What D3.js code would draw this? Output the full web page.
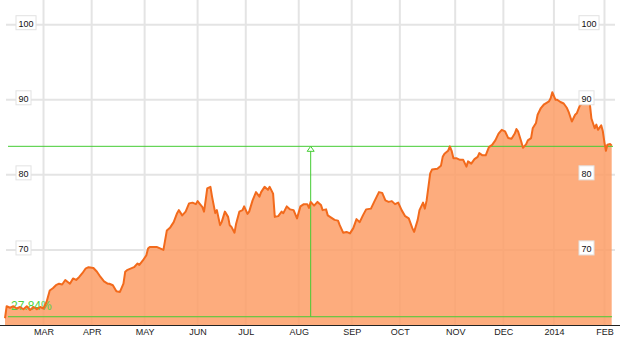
<!DOCTYPE html>
<html>
<head>
<meta charset="utf-8">
<script src="https://cdn.jsdelivr.net/npm/d3@7"></script>
<style>
  html, body { margin: 0; padding: 0; background: #fff; }
  svg { display: block; font-family: Arial, "Liberation Sans", sans-serif; }
</style>
</head>
<body>
<svg id="chart" width="620" height="344"></svg>
<script>
// period boundaries and number of trading days inside each period (x axis is trading-day based)
var periodStarts = ["2013-02-06", "2013-03-01", "2013-04-01", "2013-05-01", "2013-06-01", "2013-07-01",
  "2013-08-01", "2013-09-01", "2013-10-01", "2013-11-01", "2013-12-01", "2014-01-01", "2014-02-01", "2014-02-06"];
var tradingDays = [16, 20, 22, 22, 20, 22, 22, 20, 23, 20, 21, 21, 3];

var monthTicks = ["2013-03-01", "2013-04-01", "2013-05-01", "2013-06-01", "2013-07-01", "2013-08-01",
  "2013-09-01", "2013-10-01", "2013-11-01", "2013-12-01", "2014-01-01", "2014-02-01"];
var monthLabels = ["MAR", "APR", "MAY", "JUN", "JUL", "AUG", "SEP", "OCT", "NOV", "DEC", "2014", "FEB"];

var yTicks = [70, 80, 90, 100];

var closeDates = [
  "2013-02-06", "2013-02-07", "2013-02-09", "2013-02-11", "2013-02-13", "2013-02-15", "2013-02-17", "2013-02-19",
  "2013-02-21", "2013-02-23", "2013-02-25", "2013-02-27",
  "2013-03-01", "2013-03-03", "2013-03-05", "2013-03-07", "2013-03-09", "2013-03-11", "2013-03-13", "2013-03-15",
  "2013-03-18", "2013-03-20", "2013-03-22", "2013-03-24", "2013-03-26", "2013-03-28", "2013-03-30",
  "2013-04-02", "2013-04-04", "2013-04-06", "2013-04-08", "2013-04-10", "2013-04-11", "2013-04-13", "2013-04-15",
  "2013-04-17", "2013-04-19", "2013-04-20", "2013-04-21", "2013-04-23", "2013-04-25", "2013-04-27", "2013-04-28",
  "2013-04-30",
  "2013-05-02", "2013-05-03", "2013-05-04", "2013-05-06", "2013-05-08", "2013-05-10", "2013-05-12", "2013-05-14",
  "2013-05-16", "2013-05-18", "2013-05-20", "2013-05-21", "2013-05-23", "2013-05-25", "2013-05-27", "2013-05-29",
  "2013-05-31",
  "2013-06-01", "2013-06-04", "2013-06-05", "2013-06-06", "2013-06-07", "2013-06-09", "2013-06-10", "2013-06-12",
  "2013-06-13", "2013-06-15", "2013-06-16", "2013-06-18", "2013-06-20", "2013-06-21", "2013-06-22", "2013-06-24",
  "2013-06-25", "2013-06-27", "2013-06-29", "2013-06-30",
  "2013-07-02", "2013-07-03", "2013-07-05", "2013-07-07", "2013-07-09", "2013-07-10", "2013-07-12", "2013-07-14",
  "2013-07-15", "2013-07-17", "2013-07-18", "2013-07-20", "2013-07-22", "2013-07-23", "2013-07-25", "2013-07-27",
  "2013-07-29", "2013-07-31",
  "2013-08-02", "2013-08-04", "2013-08-06", "2013-08-07", "2013-08-08", "2013-08-10", "2013-08-12", "2013-08-14",
  "2013-08-15", "2013-08-17", "2013-08-18", "2013-08-20", "2013-08-22", "2013-08-24", "2013-08-25", "2013-08-27",
  "2013-08-29", "2013-08-31",
  "2013-09-02", "2013-09-04", "2013-09-06", "2013-09-08", "2013-09-10", "2013-09-13", "2013-09-15", "2013-09-18",
  "2013-09-20", "2013-09-22", "2013-09-24", "2013-09-26", "2013-09-28", "2013-09-30",
  "2013-10-02", "2013-10-04", "2013-10-06", "2013-10-08", "2013-10-09", "2013-10-11", "2013-10-12", "2013-10-14",
  "2013-10-15", "2013-10-16", "2013-10-18", "2013-10-19", "2013-10-22", "2013-10-24", "2013-10-25", "2013-10-26",
  "2013-10-28", "2013-10-29", "2013-10-30", "2013-10-31",
  "2013-11-02", "2013-11-04", "2013-11-06", "2013-11-08", "2013-11-09", "2013-11-11", "2013-11-13", "2013-11-15",
  "2013-11-16", "2013-11-18", "2013-11-20", "2013-11-22", "2013-11-24", "2013-11-26", "2013-11-28", "2013-11-30",
  "2013-12-02", "2013-12-04", "2013-12-06", "2013-12-08", "2013-12-09", "2013-12-10", "2013-12-12", "2013-12-13",
  "2013-12-15", "2013-12-16", "2013-12-18", "2013-12-19", "2013-12-21", "2013-12-22", "2013-12-24", "2013-12-26",
  "2013-12-29", "2013-12-30", "2013-12-31",
  "2014-01-02", "2014-01-03", "2014-01-05", "2014-01-07", "2014-01-09", "2014-01-10", "2014-01-12", "2014-01-14",
  "2014-01-15", "2014-01-17", "2014-01-18", "2014-01-20", "2014-01-22", "2014-01-23", "2014-01-24", "2014-01-26",
  "2014-01-27", "2014-01-28", "2014-01-30", "2014-01-31",
  "2014-02-01", "2014-02-02", "2014-02-03", "2014-02-05", "2014-02-06"
];
var closeValues = [
  60.9, 62.5, 62.3, 62.5, 62.2, 62.4, 62.1, 62.5, 62.0, 62.4, 62.1, 62.4,
  62.2, 63.1, 64.6, 64.9, 65.3, 65.5, 65.4, 66.0, 65.5, 66.2, 66.0, 66.4, 66.9, 67.5, 67.7,
  67.6, 67.1, 66.4, 65.8, 65.5, 65.5, 65.3, 64.5, 64.4, 65.5, 67.1, 67.3, 67.5, 67.7, 68.2, 68.0, 68.6,
  69.3, 70.2, 70.4, 70.4, 70.4, 70.2, 70.0, 72.6, 73.0, 73.7, 74.9, 75.3, 74.6, 75.1, 76.2, 76.3, 76.1,
  76.5, 75.7, 75.1, 76.6, 78.2, 78.4, 77.1, 74.9, 75.3, 73.3, 73.7, 75.1, 74.4, 73.3, 73.1, 72.3,
  73.5, 75.1, 75.3, 75.8,
  74.8, 75.1, 76.6, 77.7, 77.1, 77.7, 78.4, 78.0, 78.4, 77.5, 74.4, 74.5, 75.1, 74.9, 75.8, 75.4, 75.3, 74.2,
  75.8, 76.1, 76.1, 75.6, 76.4, 75.9, 76.4, 76.0, 75.3, 75.4, 74.6, 74.3, 74.0, 73.9, 73.3, 72.3, 72.4, 72.2,
  72.9, 74.1, 73.7, 74.6, 75.4, 75.5, 76.4, 77.7, 77.6, 76.6, 76.4, 76.5, 76.1, 76.3,
  75.3, 74.5, 74.2, 72.9, 72.4, 74.0, 75.3, 76.3, 75.5, 76.6, 80.2, 80.7, 80.8, 81.2, 82.4, 82.8,
  83.2, 83.8, 83.2, 82.2,
  82.2, 82.0, 82.0, 81.1, 81.8, 81.5, 82.1, 82.4, 82.9, 82.6, 82.6, 83.7, 84.0, 84.6, 85.5, 86.0,
  85.8, 84.9, 84.8, 85.5, 86.1, 85.8, 84.4, 83.6, 84.1, 84.6, 84.9, 86.2, 86.9, 88.0, 88.9, 89.4,
  89.8, 90.2, 91.0,
  90.0, 90.0, 89.7, 89.5, 88.9, 88.4, 87.1, 88.0, 88.2, 89.3, 89.4, 90.2, 90.3, 89.5, 87.5, 86.2,
  86.7, 86.0, 86.6, 85.8,
  84.3, 83.2, 84.0, 84.1, 83.9
];

// green reference markers
var baseLevel = 61.1;
var lastLevel = 83.8;
var markerDate = "2013-08-08";
var changeLabel = "27.84%";

var parse = d3.timeParse("%Y-%m-%d");
var svg = d3.select("#chart");

var cumDays = Array.from(d3.cumsum([0].concat(tradingDays)));
var xIndex = d3.scaleLinear().domain([0, cumDays[cumDays.length - 1]]).range([5, 611.7]);
var x = d3.scaleTime()
  .domain(periodStarts.map(parse))
  .range(cumDays.map(function(i) { return xIndex(i); }));
var y = d3.scaleLinear().domain([60, 100]).range([325, 24.7]);

var data = closeDates.map(function(d, i) { return {date: parse(d), value: closeValues[i]}; });

// grid
svg.append("g").selectAll("line").data(monthTicks).enter().append("line")
  .attr("x1", function(d) { return x(parse(d)); })
  .attr("x2", function(d) { return x(parse(d)); })
  .attr("y1", 0).attr("y2", 325)
  .attr("stroke", "#e4e4e4").attr("stroke-width", 2);
svg.append("g").selectAll("line").data(yTicks).enter().append("line")
  .attr("x1", 6).attr("x2", 615)
  .attr("y1", function(d) { return y(d); })
  .attr("y2", function(d) { return y(d); })
  .attr("stroke", "#e4e4e4").attr("stroke-width", 2);

// area
var area = d3.area()
  .x(function(d) { return x(d.date); })
  .y0(y(60))
  .y1(function(d) { return y(d.value); });
svg.append("path").datum(data)
  .attr("d", area)
  .attr("fill", "rgb(253,157,102)")
  .attr("fill-opacity", 0.85);

// green markers
var green = "#44cc33";
svg.append("line")
  .attr("x1", 8).attr("x2", 613)
  .attr("y1", y(lastLevel)).attr("y2", y(lastLevel))
  .attr("stroke", green).attr("stroke-width", 1);
svg.append("line")
  .attr("x1", 8).attr("x2", 612)
  .attr("y1", y(baseLevel)).attr("y2", y(baseLevel))
  .attr("stroke", green).attr("stroke-width", 1);
var mx = x(parse(markerDate));
svg.append("line")
  .attr("x1", mx).attr("x2", mx)
  .attr("y1", y(lastLevel)).attr("y2", y(baseLevel))
  .attr("stroke", green).attr("stroke-width", 1);
svg.append("path")
  .attr("d", "M" + mx + "," + y(lastLevel) + "l3.5,5h-7z")
  .attr("fill", "#fff").attr("stroke", green).attr("stroke-width", 1);
svg.append("text")
  .attr("x", 11).attr("y", 310)
  .attr("fill", "#4fd13f")
  .attr("font-size", "12px")
  .text(changeLabel);

// price line
var line = d3.line()
  .x(function(d) { return x(d.date); })
  .y(function(d) { return y(d.value); });
svg.append("path").datum(data)
  .attr("d", line)
  .attr("fill", "none")
  .attr("stroke", "#f26a1c")
  .attr("stroke-width", 2)
  .attr("stroke-linejoin", "round");

// x axis
svg.append("line")
  .attr("x1", 0).attr("x2", 620)
  .attr("y1", 325.5).attr("y2", 325.5)
  .attr("stroke", "#222").attr("stroke-width", 1);
var xAxis = svg.append("g")
  .attr("transform", "translate(0,325)")
  .call(d3.axisBottom(x)
    .tickValues(monthTicks.map(parse))
    .tickFormat(function(d, i) { return monthLabels[i]; })
    .tickSize(0)
    .tickPadding(4));
xAxis.select(".domain").remove();
xAxis.selectAll("text")
  .attr("fill", "#222")
  .style("font-size", "9px")
  .style("font-family", "Arial, 'Liberation Sans', sans-serif");

// value labels in boxes, left and right
function valueLabel(xPos, v) {
  var g = svg.append("g").attr("transform", "translate(" + xPos + "," + y(v) + ")");
  var rect = g.append("rect")
    .attr("y", -9).attr("height", 14)
    .attr("fill", "#fff").attr("stroke", "#e2e2e2").attr("stroke-width", 1);
  var t = g.append("text")
    .attr("x", 2.5).attr("y", 2)
    .attr("font-size", "9px").attr("fill", "#111")
    .text(v);
  rect.attr("width", t.node().getComputedTextLength() + 5);
}
yTicks.forEach(function(v) {
  valueLabel(16, v);
  valueLabel(579, v);
});
</script>
</body>
</html>
